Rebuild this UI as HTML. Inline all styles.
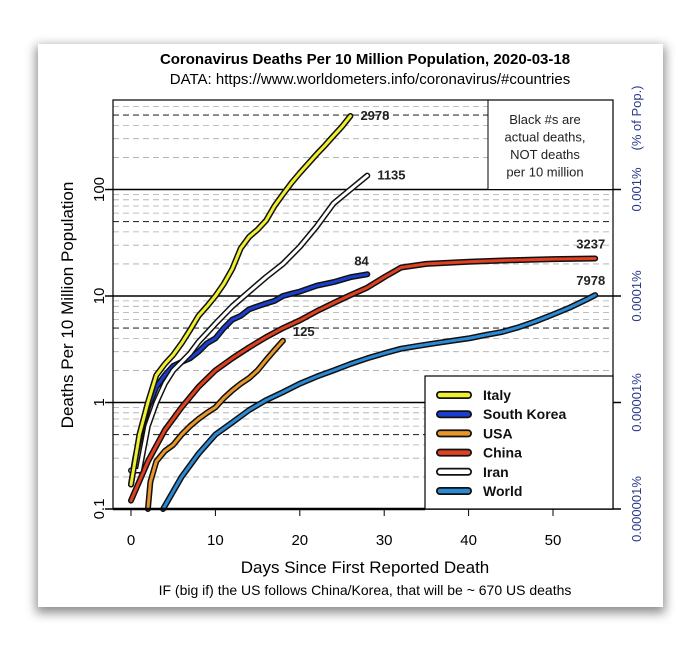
<!DOCTYPE html>
<html><head><meta charset="utf-8"><style>
html,body{margin:0;padding:0;background:#fff;}
body{width:700px;height:651px;overflow:hidden;font-family:"Liberation Sans",Arial,sans-serif;}
#card{position:absolute;left:38px;top:44px;width:625px;height:563px;background:#fff;box-shadow:0 4px 10px 2px rgba(0,0,0,0.45);}
svg{position:absolute;left:0;top:0;}
</style></head><body>
<div id="card"></div>
<svg id="chart" width="700" height="651" font-family="Liberation Sans, Arial, sans-serif"></svg>
<script>
const italyDays=[0,1,2,3,4,5,6,7,8,9,10,11,12,13,14,15,16,17,18,19,20,21,22,23,24,25,26];
const italyVals=[0.17,0.5,1.0,1.8,2.3,2.8,3.6,4.8,6.5,8,10,13,18,28,36,42,51,70,90,115,143,175,215,260,320,390,490];
const iranDays=[0,1,2,3,4,5,6,7,8,9,10,12,14,16,18,20,22,24,26,28];
const iranVals=[0.23,0.23,0.6,1.0,1.5,2.0,2.4,2.9,3.7,4.5,5.5,8,11,15,20,29,45,74,100,135];
const koreaDays=[0,0.5,1,2,3,4,5,6,7,8,9,10,11,12,13,14,15,16,17,18,19,20,22,24,26,28];
const koreaVals=[0.17,0.3,0.45,0.9,1.4,1.8,2.2,2.4,2.6,3.0,3.6,4.0,5,6,6.5,7.5,8,8.5,9,10,10.5,11,12.5,13.5,15,16];
const chinaDays=[0,2,4,6,8,10,12,14,16,18,20,22,24,26,28,30,32,35,40,45,50,55];
const chinaVals=[0.12,0.28,0.55,0.9,1.4,2.0,2.6,3.3,4.1,5,5.9,7.2,8.6,10.2,12,15,18.5,20,21,21.7,22.2,22.5];
const usaDays=[2,2.3,3,4,5,6,7,8,9,10,11,12,13,14,15,16,17,18];
const usaVals=[0.1,0.18,0.28,0.35,0.4,0.5,0.6,0.7,0.8,0.9,1.1,1.3,1.5,1.7,2.0,2.5,3.1,3.8];
const worldDays=[3.8,6,8,10,12,14,16,18,20,22,24,26,28,30,32,34,36,38,40,42,44,46,48,50,52,54,55];
const worldVals=[0.1,0.2,0.33,0.5,0.65,0.85,1.05,1.25,1.5,1.75,2.0,2.3,2.6,2.9,3.2,3.4,3.6,3.8,4.0,4.3,4.6,5.1,5.8,6.7,7.8,9.3,10.2];
const xTicks=[0,10,20,30,40,50];
const yTicks=[0.1,1,10,100];
const yTickLabels=["0.1","1","10","100"];
const rightLabels=["0.000001%","0.00001%","0.0001%","0.001%"];
const endLabels=[["2978",26,490],["1135",28,135],["84",28,16],["125",18,3.8],["3237",55,22.5],["7978",55,10.2]];

const L=113,R=613,T=100,B=509;
const X=d=>131+d*8.44;
const Y=v=>509-(Math.log10(v)+1)*106.5;
const S=document.getElementById('chart');
const NS='http://www.w3.org/2000/svg';
function mk(tag,at,txt){const e=document.createElementNS(NS,tag);for(const k in at)e.setAttribute(k,at[k]);if(txt!=null)e.textContent=txt;S.appendChild(e);return e;}

// grid
for(let dec=-1;dec<3;dec++){for(let m=2;m<=9;m++){const v=m*Math.pow(10,dec);const y=Y(v);if(y<T)continue;
 const g=mk('line',{x1:L,x2:R,y1:y,y2:y,stroke:m==5?'#333':'#aaa','stroke-width':m==5?1.2:0.8,'stroke-dasharray':'6,4'});
 
 }}
yTicks.forEach((v,i)=>{const y=Y(v);
 const g=mk('line',{x1:L-8,x2:R+8,y1:y,y2:y,stroke:'#000','stroke-width':1.5});
 
 
 const t=mk('text',{x:0,y:0,transform:`translate(104,${y}) rotate(-90)`,'text-anchor':'middle','font-size':15},yTickLabels[i]);
 
 
 const r=mk('text',{x:0,y:0,transform:`translate(641,${y}) rotate(-90)`,'text-anchor':'middle','font-size':13,fill:'#2a3a8c'},rightLabels[i]);
 
 });
xTicks.forEach(d=>{const x=X(d);
 const t=mk('line',{x1:x,x2:x,y1:B,y2:B+7,stroke:'#000','stroke-width':1});
 
 
 const l=mk('text',{x:x,y:545,'text-anchor':'middle','font-size':15},String(d));
 
 });
// note box
const nb=mk('rect',{x:488,y:T,width:R-488,height:Y(100)-T,fill:'#fff',stroke:'#000','stroke-width':1});


["Black #s are","actual deaths,","NOT deaths","per 10 million"].forEach((s,i)=>{const t=mk('text',{x:545,y:124+i*17.5,'text-anchor':'middle','font-size':13,fill:'#222'},s);
 
 });

function series(days,vals,color,name){const pts=days.map((d,i)=>X(d).toFixed(1)+','+Y(vals[i]).toFixed(1)).join(' ');
 const o=mk('polyline',{points:pts,fill:'none',stroke:'#111','stroke-width':6,'stroke-linecap':'round','stroke-linejoin':'round'});
 
 
 const l=mk('polyline',{points:pts,fill:'none',stroke:color,'stroke-width':3,'stroke-linecap':'round','stroke-linejoin':'round'});
 
 }
const clip=mk('clipPath',{id:'c'});
series(worldDays,worldVals,'#2b8ad6','world');
series(usaDays,usaVals,'#e8962a','usa');
series(chinaDays,chinaVals,'#e04020','china');
series(koreaDays,koreaVals,'#1a3fd0','south-korea');
series(iranDays,iranVals,'#ffffff','iran');
series(italyDays,italyVals,'#f0f030','italy');
endLabels.forEach(e=>{const big=e[1]>50;const t=mk('text',{x:big?X(e[1])+10:X(e[1])+10,y:big?Y(e[2])-10:Y(e[2])+4,'text-anchor':big?'end':'start','font-size':13,'font-weight':'bold',fill:'#222'},e[0]);
 if(e[0]=='84'){t.setAttribute('x',X(e[1])-13);t.setAttribute('y',Y(e[2])-9);}
 if(e[0]=='125'){t.setAttribute('y',Y(e[2])-5);}
 
 });
// box frame
const fr=mk('rect',{x:L,y:T,width:R-L,height:B-T,fill:'none',stroke:'#000','stroke-width':1.2});


const bl=mk('line',{x1:L,x2:425,y1:B,y2:B,stroke:'#000','stroke-width':2.5});


// legend
const lg=mk('rect',{x:425,y:376,width:R-425,height:B-376,fill:'#fff',stroke:'#000','stroke-width':1.2});


[["Italy",'#f0f030'],["South Korea",'#1a3fd0'],["USA",'#e8962a'],["China",'#e04020'],["Iran",'#ffffff'],["World",'#2b8ad6']].forEach((e,i)=>{const y=395+i*19.2;
 const a=mk('line',{x1:440,x2:468,y1:y,y2:y,stroke:'#111','stroke-width':8,'stroke-linecap':'round'});
 
 
 const b=mk('line',{x1:440,x2:468,y1:y,y2:y,stroke:e[1],'stroke-width':4.5,'stroke-linecap':'round'});
 
 
 const t=mk('text',{x:483,y:y+5,'font-size':14,'font-weight':'bold',fill:'#111'},e[0]);
 
 });
// titles
const t1=mk('text',{x:365,y:64,'text-anchor':'middle','font-size':15,'font-weight':'bold'},'Coronavirus Deaths Per 10 Million Population, 2020-03-18');


const t2=mk('text',{x:370,y:84,'text-anchor':'middle','font-size':15},'DATA: https://www.worldometers.info/coronavirus/#countries');


const t3=mk('text',{x:365,y:573,'text-anchor':'middle','font-size':17},'Days Since First Reported Death');


const t4=mk('text',{x:365,y:595,'text-anchor':'middle','font-size':14},'IF (big if) the US follows China/Korea, that will be ~ 670 US deaths');


const t5=mk('text',{x:0,y:0,transform:'translate(73,305) rotate(-90)','text-anchor':'middle','font-size':17},'Deaths Per 10 Million Population');


const t6=mk('text',{x:0,y:0,transform:'translate(641,118) rotate(-90)','text-anchor':'middle','font-size':13,fill:'#2a3a8c'},'(% of Pop.)');


</script>
</body></html>
